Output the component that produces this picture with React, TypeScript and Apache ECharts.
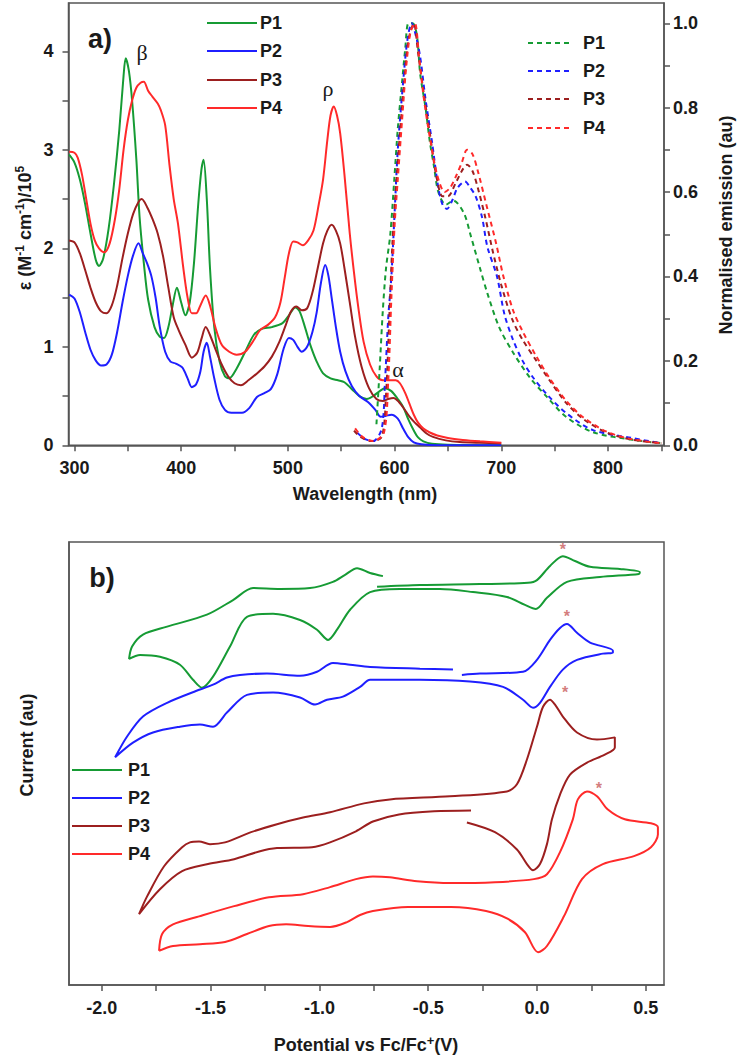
import React, { useEffect, useRef } from "react";
import * as echarts from "echarts";

// ---------- DATA ----------
const seriesNames = ["P1", "P2", "P3", "P4"];
const colors = ["#169b34", "#1f1fff", "#9c1f1f", "#ff2a2a"];

// Absorption: [wavelength nm, epsilon / 1e5]
const absP1: number[][] = [[295,2.95],[300,2.87],[305,2.7],[310,2.45],[315,2.15],[320,1.88],[323,1.82],[327,1.9],[332,2.2],[337,2.65],[342,3.2],[346,3.75],[348,3.93],[351,3.8],[354,3.5],[358,2.9],[361,2.32],[365,1.85],[369,1.48],[375,1.2],[380,1.1],[384,1.09],[388,1.2],[392,1.42],[396,1.6],[400,1.45],[404,1.32],[408,1.45],[412,1.85],[416,2.45],[419,2.8],[421,2.9],[424,2.5],[427,1.8],[431,1.2],[436,0.85],[441,0.7],[445,0.68],[452,0.78],[460,0.95],[468,1.12],[475,1.18],[485,1.2],[495,1.24],[501,1.32],[507,1.4],[511,1.36],[516,1.2],[521,1.02],[527,0.85],[533,0.73],[540,0.68],[547,0.66],[553,0.64],[560,0.57],[567,0.5],[574,0.47],[580,0.5],[586,0.55],[591,0.58],[597,0.55],[603,0.47],[608,0.39],[613,0.26],[618,0.15],[622,0.08],[627,0.04],[635,0.015],[650,0.005],[700,0]];
const absP2: number[][] = [[295,1.53],[300,1.49],[305,1.35],[310,1.15],[315,0.97],[320,0.86],[325,0.81],[330,0.82],[335,0.92],[340,1.15],[345,1.45],[350,1.72],[355,1.93],[360,2.05],[364,1.95],[368,1.85],[372,1.72],[376,1.5],[380,1.2],[385,0.95],[390,0.85],[395,0.83],[401,0.79],[406,0.68],[410,0.59],[414,0.62],[418,0.75],[421,0.95],[424,1.04],[427,0.9],[431,0.68],[436,0.46],[441,0.36],[447,0.33],[457,0.33],[464,0.38],[471,0.49],[478,0.53],[484,0.57],[490,0.72],[496,0.98],[501,1.09],[505,1.07],[509,1.0],[513,0.95],[518,1.0],[523,1.15],[527,1.35],[531,1.65],[535,1.83],[538,1.72],[541,1.5],[545,1.2],[549,0.95],[554,0.75],[560,0.6],[567,0.5],[575,0.44],[582,0.36],[587,0.29],[592,0.3],[597,0.31],[603,0.27],[608,0.17],[613,0.08],[618,0.03],[625,0.01],[640,0],[700,0]];
const absP3: number[][] = [[295,2.08],[300,2.06],[305,1.95],[310,1.78],[315,1.6],[320,1.45],[325,1.36],[330,1.34],[335,1.42],[340,1.62],[345,1.9],[350,2.15],[355,2.35],[360,2.47],[363,2.5],[368,2.42],[373,2.3],[378,2.15],[383,1.92],[388,1.6],[393,1.3],[398,1.16],[404,1.02],[410,0.89],[415,0.94],[419,1.08],[423,1.2],[427,1.12],[432,0.98],[438,0.82],[444,0.7],[450,0.63],[456,0.61],[463,0.66],[470,0.72],[478,0.8],[485,0.9],[492,1.05],[498,1.22],[503,1.36],[508,1.41],[513,1.37],[518,1.39],[523,1.55],[528,1.8],[533,2.05],[537,2.18],[541,2.24],[545,2.18],[549,2.05],[553,1.8],[558,1.45],[563,1.1],[569,0.8],[576,0.58],[583,0.47],[589,0.45],[594,0.47],[599,0.48],[604,0.44],[609,0.37],[614,0.29],[619,0.23],[624,0.18],[630,0.12],[636,0.085],[648,0.05],[661,0.033],[680,0.025],[700,0.02]];
const absP4: number[][] = [[295,2.98],[300,2.97],[303,2.92],[307,2.75],[311,2.5],[315,2.25],[319,2.08],[323,2.0],[328,1.96],[333,2.05],[338,2.3],[342,2.6],[346,3.0],[350,3.3],[354,3.5],[358,3.63],[362,3.68],[365,3.69],[369,3.6],[373,3.54],[378,3.47],[381,3.4],[385,3.25],[389,2.85],[393,2.5],[397,2.25],[402,1.8],[406,1.5],[410,1.34],[414,1.34],[418,1.42],[423,1.52],[427,1.42],[432,1.2],[438,1.02],[445,0.95],[452,0.92],[460,0.95],[467,1.05],[474,1.17],[481,1.22],[488,1.3],[493,1.45],[497,1.7],[501,1.95],[505,2.07],[509,2.06],[514,2.03],[519,2.08],[524,2.18],[529,2.45],[533,2.7],[537,3.1],[540,3.35],[543,3.44],[546,3.35],[549,3.17],[553,2.75],[558,2.15],[562,1.75],[566,1.4],[571,1.05],[577,0.82],[583,0.7],[589,0.66],[595,0.66],[601,0.66],[605,0.63],[610,0.53],[614,0.42],[618,0.31],[622,0.23],[627,0.17],[633,0.13],[640,0.1],[650,0.075],[664,0.055],[680,0.04],[700,0.026]];

// Emission: [wavelength nm, normalised emission]
const emP1: number[][] = [[583,0.05],[586,0.18],[589,0.32],[592,0.42],[596,0.5],[600,0.64],[603,0.75],[607,0.86],[610,0.94],[613,1.0],[617,1.0],[621,0.97],[624,0.88],[629,0.8],[633,0.72],[637,0.66],[641,0.6],[648,0.57],[655,0.58],[665,0.55],[671,0.5],[680,0.42],[687,0.36],[698,0.28],[711,0.22],[727,0.16],[743,0.114],[761,0.067],[786,0.031],[823,0.013],[850,0.005]];
const emP2: number[][] = [[565,0.03],[572,0.015],[580,0.01],[588,0.04],[591,0.15],[594,0.3],[597,0.4],[600,0.55],[603,0.7],[608,0.86],[612,0.96],[616,1.0],[620,0.97],[624,0.92],[629,0.82],[635,0.72],[641,0.61],[645,0.57],[649,0.56],[654,0.58],[659,0.61],[666,0.625],[671,0.61],[676,0.59],[682,0.54],[687,0.47],[696,0.4],[703,0.31],[711,0.25],[720,0.2],[730,0.16],[743,0.12],[761,0.076],[786,0.036],[823,0.017],[850,0.005]];
const emP3: number[][] = [[562,0.035],[568,0.02],[578,0.01],[588,0.02],[592,0.12],[595,0.3],[598,0.48],[601,0.6],[605,0.74],[609,0.86],[613,0.96],[618,1.0],[622,0.93],[627,0.84],[633,0.74],[639,0.64],[645,0.59],[650,0.59],[657,0.62],[663,0.65],[668,0.665],[673,0.65],[678,0.61],[685,0.54],[692,0.46],[700,0.38],[710,0.3],[720,0.25],[733,0.2],[745,0.155],[761,0.1],[777,0.062],[799,0.03],[823,0.013],[850,0.005]];
const emP4: number[][] = [[563,0.04],[570,0.02],[580,0.01],[590,0.03],[594,0.15],[597,0.35],[600,0.52],[603,0.63],[607,0.77],[611,0.9],[615,0.98],[619,1.0],[623,0.92],[627,0.83],[633,0.73],[640,0.64],[647,0.6],[652,0.61],[658,0.64],[663,0.67],[668,0.7],[673,0.69],[678,0.65],[686,0.57],[695,0.48],[702,0.4],[711,0.32],[720,0.27],[733,0.21],[745,0.16],[761,0.105],[777,0.066],[799,0.032],[823,0.014],[850,0.005]];

// Cyclic voltammograms: [potential V vs Fc/Fc+, current au]
const cvP1: number[][] = [[-0.708,9.23],[-0.767,9.3],[-0.827,9.41],[-0.882,9.26],[-0.938,9.1],[-1.043,8.96],[-1.181,8.94],[-1.305,8.96],[-1.397,8.69],[-1.517,8.36],[-1.7,8.09],[-1.811,7.91],[-1.861,7.64],[-1.875,7.36],[-1.824,7.45],[-1.733,7.41],[-1.641,7.23],[-1.581,6.89],[-1.54,6.71],[-1.489,6.96],[-1.411,7.64],[-1.333,8.31],[-1.213,8.38],[-1.089,8.24],[-1.011,8.02],[-0.96,7.79],[-0.919,8.02],[-0.859,8.47],[-0.767,8.87],[-0.63,8.94],[-0.446,8.94],[-0.294,8.87],[-0.138,8.76],[-0.055,8.58],[-0.005,8.49],[0.046,8.74],[0.138,9.1],[0.29,9.21],[0.469,9.28],[0.473,9.32],[0.381,9.39],[0.244,9.44],[0.175,9.57],[0.119,9.68],[0.06,9.46],[0,9.14],[-0.041,9.08],[-0.262,9.05],[-0.538,9.03],[-0.735,8.99]];
const cvP2: number[][] = [[-0.345,7.0],[-0.262,7.03],[-0.064,7.07],[0,7.34],[0.06,7.79],[0.106,8.06],[0.138,8.15],[0.184,7.95],[0.244,7.73],[0.349,7.55],[0.349,7.5],[0.303,7.48],[0.184,7.34],[0.119,7.12],[0.06,6.73],[0.014,6.37],[-0.018,6.26],[-0.064,6.44],[-0.156,6.73],[-0.308,6.85],[-0.538,6.89],[-0.767,6.89],[-0.813,6.73],[-0.892,6.51],[-0.965,6.44],[-1.02,6.33],[-1.089,6.49],[-1.213,6.6],[-1.333,6.55],[-1.425,6.15],[-1.489,5.83],[-1.549,5.88],[-1.641,5.83],[-1.765,5.7],[-1.857,5.47],[-1.939,5.14],[-1.884,5.61],[-1.811,6.06],[-1.7,6.37],[-1.549,6.67],[-1.489,6.78],[-1.425,6.94],[-1.365,7.0],[-1.241,7.03],[-1.089,6.98],[-1.011,7.07],[-0.938,7.27],[-0.859,7.23],[-0.767,7.18],[-0.538,7.14],[-0.386,7.12]];
const cvP3: number[][] = [[-0.322,3.67],[-0.193,3.45],[-0.092,3.06],[-0.046,2.73],[-0.018,2.59],[0.014,2.73],[0.046,3.18],[0.069,3.74],[0.106,4.3],[0.152,4.75],[0.23,5.02],[0.312,5.2],[0.358,5.36],[0.358,5.59],[0.276,5.54],[0.184,5.7],[0.119,6.06],[0.083,6.33],[0.06,6.44],[0.028,6.28],[0,5.83],[-0.046,5.09],[-0.092,4.53],[-0.138,4.37],[-0.4,4.26],[-0.676,4.19],[-0.795,4.1],[-0.951,3.9],[-1.075,3.78],[-1.195,3.63],[-1.314,3.45],[-1.434,3.22],[-1.503,3.18],[-1.553,3.24],[-1.595,3.22],[-1.631,3.11],[-1.714,2.68],[-1.792,2.0],[-1.829,1.6],[-1.733,2.16],[-1.631,2.57],[-1.512,2.73],[-1.392,2.84],[-1.273,3.02],[-1.195,3.09],[-1.034,3.11],[-0.951,3.22],[-0.832,3.47],[-0.754,3.69],[-0.634,3.85],[-0.473,3.92],[-0.303,3.94]];
const cvP4: number[][] = [[-1.737,0.77],[-1.673,0.88],[-1.549,0.92],[-1.434,0.97],[-1.333,1.15],[-1.232,1.33],[-1.153,1.37],[-1.052,1.33],[-0.951,1.31],[-0.873,1.42],[-0.813,1.58],[-0.754,1.67],[-0.593,1.76],[-0.395,1.76],[-0.234,1.67],[-0.133,1.49],[-0.055,1.19],[0.005,0.74],[0.046,0.88],[0.124,1.55],[0.207,2.39],[0.303,2.73],[0.446,2.91],[0.524,3.11],[0.556,3.4],[0.556,3.56],[0.524,3.65],[0.404,3.74],[0.326,3.96],[0.276,4.26],[0.23,4.37],[0.188,4.19],[0.165,3.74],[0.106,3.0],[0.046,2.5],[-0.014,2.39],[-0.193,2.32],[-0.395,2.3],[-0.551,2.34],[-0.676,2.43],[-0.754,2.45],[-0.832,2.39],[-0.951,2.21],[-1.075,2.05],[-1.232,1.98],[-1.392,1.78],[-1.553,1.55],[-1.673,1.37],[-1.723,1.15],[-1.737,0.77]];

// Asterisk marks on the Fc/Fc+ couple
const asteriskPoints: number[][] = [[0.119,9.84],[0.138,8.31],[0.129,6.6],[0.285,4.44]];

// Tick values
const wlLabels = [300, 400, 500, 600, 700, 800];
const wlTicks = [300, 350, 400, 450, 500, 550, 600, 650, 700, 750, 800, 850];
const epsLabels = [0, 1, 2, 3, 4];
const epsTicks = [0, 0.5, 1, 1.5, 2, 2.5, 3, 3.5, 4];
const emLabels = [0, 0.2, 0.4, 0.6, 0.8, 1.0];
const emTicks = [0, 0.1, 0.2, 0.3, 0.4, 0.5, 0.6, 0.7, 0.8, 0.9, 1.0];
const potLabels = [-2.0, -1.5, -1.0, -0.5, 0.0, 0.5];
const potTicks = [-2.0, -1.75, -1.5, -1.25, -1.0, -0.75, -0.5, -0.25, 0.0, 0.25, 0.5];

// ---------- CHART ----------
const FONT = '"Liberation Sans", Arial, sans-serif';
const AXIS_COLOR = "#555";
const TEXT_COLOR = "#1a1a1a";

export default function App() {
  const ref = useRef<HTMLDivElement>(null);

  useEffect(() => {
    if (!ref.current) return;
    const chart = echarts.init(ref.current, undefined, { renderer: "svg" });

    const absSets = [absP1, absP2, absP3, absP4];
    const emSets = [emP1, emP2, emP3, emP4];
    const cvSets = [cvP1, cvP2, cvP3, cvP4];

    const labelStyle = { fontFamily: FONT, fontSize: 18, fontWeight: "bold", color: TEXT_COLOR };
    const axisLine = { show: true, onZero: false, lineStyle: { color: AXIS_COLOR, width: 1.5 } };

    const series: any[] = [];
    absSets.forEach((d, i) =>
      series.push({
        name: seriesNames[i] + " abs",
        type: "line",
        xAxisIndex: 0,
        yAxisIndex: 0,
        data: d,
        symbol: "none",
        smooth: 0.3,
        lineStyle: { color: colors[i], width: 2 },
      })
    );
    emSets.forEach((d, i) =>
      series.push({
        name: seriesNames[i] + " em",
        type: "line",
        xAxisIndex: 0,
        yAxisIndex: 1,
        data: d,
        symbol: "none",
        smooth: 0.3,
        lineStyle: { color: colors[i], width: 2, type: [5, 4] },
      })
    );
    cvSets.forEach((d, i) =>
      series.push({
        name: seriesNames[i] + " cv",
        type: "line",
        xAxisIndex: 1,
        yAxisIndex: 2,
        data: d,
        symbol: "none",
        smooth: 0.3,
        lineStyle: { color: colors[i], width: 2 },
      })
    );
    series.push({
      name: "asterisk",
      type: "scatter",
      xAxisIndex: 1,
      yAxisIndex: 2,
      data: asteriskPoints,
      symbolSize: 1,
      itemStyle: { color: "rgba(0,0,0,0)" },
      label: {
        show: true,
        position: "inside",
        formatter: "*",
        color: "#c85a5a",
        fontSize: 16,
        fontWeight: "bold",
        fontFamily: FONT,
      },
    });

    const graphics: any[] = [];
    const txt = (text: string, x: number, y: number, font: string) => ({
      type: "text",
      x,
      y,
      style: { text, font, fill: TEXT_COLOR, textAlign: "center", textVerticalAlign: "middle" },
    });

    // panel letters
    graphics.push(txt("a)", 100, 39, `bold 27px ${FONT}`));
    graphics.push(txt("b)", 102, 578, `bold 27px ${FONT}`));
    // band labels
    graphics.push(txt("β", 142, 52, `22px "Liberation Serif", serif`));
    graphics.push(txt("ρ", 328, 88, `22px "Liberation Serif", serif`));
    graphics.push(txt("α", 398, 369, `22px "Liberation Serif", serif`));

    // axis titles
    graphics.push(txt("Wavelength (nm)", 365, 494, `bold 18px ${FONT}`));
    graphics.push({
      type: "text",
      x: 726,
      y: 225,
      rotation: Math.PI / 2,
      style: { text: "Normalised emission (au)", font: `bold 18px ${FONT}`, fill: TEXT_COLOR, textAlign: "center", textVerticalAlign: "middle" },
    });
    graphics.push({
      type: "text",
      x: 25,
      y: 228,
      rotation: Math.PI / 2,
      style: {
        text: "{n|ε (M}{s|-1}{n| cm}{s|-1}{n|)/10}{s|5}",
        textAlign: "center",
        textVerticalAlign: "middle",
        fill: TEXT_COLOR,
        rich: {
          n: { fontFamily: FONT, fontSize: 18, fontWeight: "bold", color: TEXT_COLOR },
          s: { fontFamily: FONT, fontSize: 12, fontWeight: "bold", color: TEXT_COLOR, padding: [0, 0, 10, 0] },
        },
      },
    });
    graphics.push({
      type: "text",
      x: 27,
      y: 745,
      rotation: Math.PI / 2,
      style: { text: "Current (au)", font: `bold 18px ${FONT}`, fill: TEXT_COLOR, textAlign: "center", textVerticalAlign: "middle" },
    });
    graphics.push({
      type: "text",
      x: 366,
      y: 1045,
      style: {
        text: "{n|Potential vs Fc/Fc}{s|+}{n|(V)}",
        textAlign: "center",
        textVerticalAlign: "middle",
        fill: TEXT_COLOR,
        rich: {
          n: { fontFamily: FONT, fontSize: 18, fontWeight: "bold", color: TEXT_COLOR },
          s: { fontFamily: FONT, fontSize: 13, fontWeight: "bold", color: TEXT_COLOR, padding: [0, 0, 10, 0] },
        },
      },
    });

    // legends
    const legendRows = (x1: number, x2: number, tx: number, ys: number[], dashed: boolean) => {
      ys.forEach((y, i) => {
        graphics.push({
          type: "line",
          shape: { x1, y1: y, x2, y2: y },
          style: { stroke: colors[i], lineWidth: 2.2, lineDash: dashed ? [5, 4] : null },
        });
        graphics.push({
          type: "text",
          x: tx,
          y,
          style: { text: seriesNames[i], font: `bold 18px ${FONT}`, fill: TEXT_COLOR, textAlign: "left", textVerticalAlign: "middle" },
        });
      });
    };
    legendRows(207, 257, 260, [23, 51, 80, 108], false);
    legendRows(528, 573, 583, [43, 71, 99, 128], true);
    legendRows(72, 122, 128, [770, 798, 826, 854], false);

    const option: any = {
      animation: false,
      backgroundColor: "#fff",
      grid: [
        { left: 68.5, right: 75, top: 3, height: 442.3, show: true, borderColor: AXIS_COLOR, borderWidth: 1.5, backgroundColor: "transparent" },
        { left: 69, right: 75, top: 542, height: 443, show: true, borderColor: AXIS_COLOR, borderWidth: 1.5, backgroundColor: "transparent" },
      ],
      xAxis: [
        {
          type: "value",
          gridIndex: 0,
          min: 294.4,
          max: 852.5,
          axisLine,
          splitLine: { show: false },
          axisTick: { show: true, customValues: wlTicks, length: 6, lineStyle: { color: AXIS_COLOR, width: 1.5 } },
          axisLabel: { ...labelStyle, margin: 14, customValues: wlLabels },
        },
        {
          type: "value",
          gridIndex: 1,
          min: -2.151,
          max: 0.584,
          axisLine,
          splitLine: { show: false },
          axisTick: { show: true, customValues: potTicks, length: 6, lineStyle: { color: AXIS_COLOR, width: 1.5 } },
          axisLabel: { ...labelStyle, margin: 14, customValues: potLabels, formatter: (v: number) => v.toFixed(1) },
        },
      ],
      yAxis: [
        {
          type: "value",
          gridIndex: 0,
          min: 0,
          max: 4.49,
          position: "left",
          axisLine,
          splitLine: { show: false },
          axisTick: { show: true, customValues: epsTicks, length: 6, lineStyle: { color: AXIS_COLOR, width: 1.5 } },
          axisLabel: { ...labelStyle, margin: 15, customValues: epsLabels },
        },
        {
          type: "value",
          gridIndex: 0,
          min: 0,
          max: 1.048,
          position: "right",
          axisLine,
          splitLine: { show: false },
          axisTick: { show: true, customValues: emTicks, length: 6, lineStyle: { color: AXIS_COLOR, width: 1.5 } },
          axisLabel: { ...labelStyle, margin: 9, customValues: emLabels, formatter: (v: number) => v.toFixed(1) },
        },
        {
          type: "value",
          gridIndex: 1,
          min: 0,
          max: 10,
          position: "left",
          axisLine,
          splitLine: { show: false },
          axisTick: { show: false },
          axisLabel: { show: false },
        },
      ],
      series,
      graphic: { elements: graphics },
    };

    chart.setOption(option);
    return () => chart.dispose();
  }, []);

  return <div ref={ref} style={{ position: "absolute", left: 0, top: 0, width: 739, height: 1060 }} />;
}
